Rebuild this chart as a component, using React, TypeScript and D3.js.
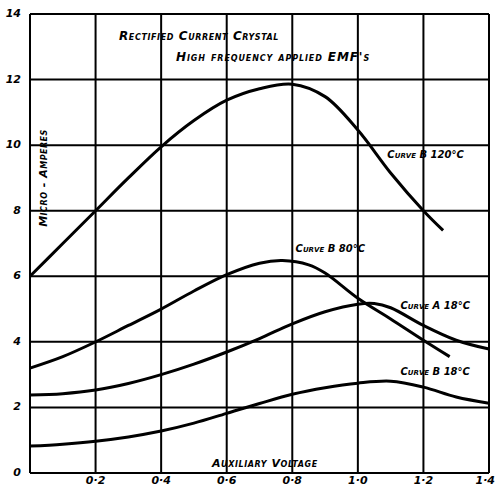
import React from "react";
import * as d3 from "d3";

// auxiliary voltage readings (volts)
const voltsB120 = [0, 0.1, 0.2, 0.3, 0.4, 0.5, 0.6, 0.7, 0.8, 0.9, 1.0, 1.1, 1.2, 1.26];
const ampsB120 = [6.0, 7.0, 8.0, 9.0, 9.95, 10.75, 11.37, 11.72, 11.86, 11.48, 10.46, 9.15, 8.0, 7.4];

const voltsB80 = [0, 0.1, 0.2, 0.3, 0.4, 0.5, 0.6, 0.7, 0.77, 0.85, 0.9, 1.0, 1.1, 1.2, 1.28];
const ampsB80 = [3.2, 3.55, 4.0, 4.5, 5.0, 5.55, 6.05, 6.4, 6.48, 6.35, 6.1, 5.33, 4.7, 4.05, 3.55];

const voltsA18 = [0, 0.1, 0.2, 0.3, 0.4, 0.5, 0.6, 0.7, 0.8, 0.9, 1.0, 1.05, 1.1, 1.2, 1.3, 1.4];
const ampsA18 = [2.38, 2.42, 2.53, 2.73, 3.0, 3.32, 3.69, 4.1, 4.55, 4.92, 5.15, 5.17, 5.04, 4.5, 4.05, 3.78];

const voltsB18 = [0, 0.1, 0.2, 0.3, 0.4, 0.5, 0.6, 0.7, 0.8, 0.9, 1.0, 1.1, 1.2, 1.3, 1.4];
const ampsB18 = [0.82, 0.88, 0.97, 1.1, 1.28, 1.52, 1.82, 2.12, 2.4, 2.6, 2.74, 2.8, 2.62, 2.32, 2.13];

const curveNames = ["Curve B 120°C", "Curve B 80°C", "Curve A 18°C", "Curve B 18°C"];

const xTicks = [0.2, 0.4, 0.6, 0.8, 1.0, 1.2, 1.4];
const xTickLabels = ["0·2", "0·4", "0·6", "0·8", "1·0", "1·2", "1·4"];
const yTicks = [0, 2, 4, 6, 8, 10, 12, 14];

const W = 496,
	H = 488;
const left = 30,
	right = 489,
	top = 14,
	bottom = 473;

const font = "'DejaVu Sans', sans-serif";

const App = () => {
	const x = d3.scaleLinear().domain([0, 1.4]).range([left, right]);
	const y = d3.scaleLinear().domain([0, 14]).range([bottom, top]);

	const line = d3
		.line<[number, number]>()
		.x((d) => x(d[0]))
		.y((d) => y(d[1]))
		.curve(d3.curveCatmullRom.alpha(0.5));

	const series = [
		[voltsB120, ampsB120],
		[voltsB80, ampsB80],
		[voltsA18, ampsA18],
		[voltsB18, ampsB18],
	].map(([vs, as]) => vs.map((v, i) => [v, as[i]] as [number, number]));

	// where each curve name sits (data units)
	const namePos: [number, number][] = [
		[1.09, 9.6],
		[0.81, 6.75],
		[1.13, 5.0],
		[1.13, 2.98],
	];

	const textStyle = {
		fontFamily: font,
		fontStyle: "italic",
		fontWeight: "bold",
		fontVariant: "small-caps",
	} as React.CSSProperties;

	return (
		<svg
			width={W}
			height={H}
			style={{ position: "absolute", left: 0, top: 0, background: "#fff" }}
		>
			<g stroke="#000" strokeWidth={2}>
				{yTicks.map((t) => (
					<line key={"h" + t} x1={left} x2={right} y1={y(t)} y2={y(t)} />
				))}
				{[0, ...xTicks].map((t) => (
					<line key={"v" + t} x1={x(t)} x2={x(t)} y1={top} y2={bottom} />
				))}
			</g>

			<g fill="#000" style={textStyle} fontSize={11}>
				{yTicks.map((t) => (
					<text key={"yl" + t} x={21} y={y(t) + 3} textAnchor="end">
						{t}
					</text>
				))}
				{xTicks.map((t, i) => {
					const last = i === xTicks.length - 1;
					return (
						<text
							key={"xl" + t}
							x={last ? W - 1 : x(t)}
							y={484}
							textAnchor={last ? "end" : "middle"}
						>
							{xTickLabels[i]}
						</text>
					);
				})}
			</g>

			<g fill="none" stroke="#000" strokeWidth={3}>
				{series.map((s, i) => (
					<path key={i} d={line(s) || ""} />
				))}
			</g>

			<g fill="#000" style={textStyle}>
				<text x={119} y={40} fontSize={12} letterSpacing={0.6}>
					Rectified Current Crystal
				</text>
				<text x={176} y={61} fontSize={12} letterSpacing={0.9}>
					High frequency applied EMF's
				</text>
				<text x={212} y={467} fontSize={11} letterSpacing={0.6}>
					Auxiliary Voltage
				</text>
				<text
					transform="translate(47,178) rotate(-90)"
					textAnchor="middle"
					fontSize={11}
					letterSpacing={0.5}
				>
					Micro - Amperes
				</text>
				{curveNames.map((n, i) => (
					<text key={n} x={x(namePos[i][0])} y={y(namePos[i][1])} fontSize={10}>
						{n}
					</text>
				))}
			</g>
		</svg>
	);
};

export default App;
